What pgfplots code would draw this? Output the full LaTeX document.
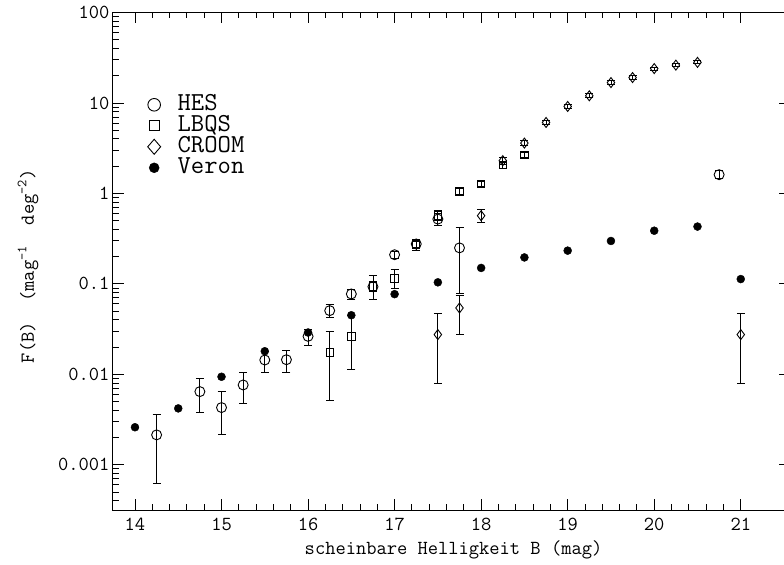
\documentclass[border=0pt]{standalone}
\usepackage{fontspec}
\usepackage{pgfplots}
\pgfplotsset{compat=1.18}
\usepackage{pgfplotstable}

% Surface density of quasars per magnitude bin; lo/hi are the ends of the error bars
\pgfplotstableread{
x     y       lo       hi
14.25 0.00214 0.000625 0.00361
14.75 0.00644 0.0038   0.0090
15.00 0.00429 0.00216  0.0065
15.25 0.00763 0.00474  0.01045
15.50 0.0144  0.0105   0.018
15.75 0.0145  0.0105   0.0184
16.00 0.0263  0.0211   0.0317
16.25 0.0506  0.0427   0.0585
16.50 0.0773  0.0669   0.087
16.75 0.093   0.082    0.105
17.00 0.21    0.19     0.23
17.25 0.276   0.25     0.30
17.50 0.52    0.44     0.60
17.75 0.25    0.078    0.42
20.75 1.61    1.45     1.78
}\hes

\pgfplotstableread{
x     y      lo     hi
16.25 0.0175 0.0051 0.030
16.50 0.0263 0.0112 0.045
16.75 0.094  0.067  0.124
17.00 0.115  0.090  0.146
17.25 0.27   0.235  0.31
17.50 0.57   0.50   0.64
17.75 1.05   0.97   1.13
18.00 1.27   1.18   1.36
18.25 2.06   1.90   2.22
18.50 2.68   2.50   2.86
}\lbqs

\pgfplotstableread{
x     y      lo     hi
17.50 0.0275 0.008  0.0465
17.75 0.0542 0.0275 0.0746
18.00 0.567  0.479  0.67
18.25 2.30   2.10   2.50
18.50 3.60   3.35   3.85
18.75 6.09   5.75   6.45
19.00 9.15   8.70   9.60
19.25 12.0   11.4   12.6
19.50 16.8   16.0   17.6
19.75 19.1   18.3   19.9
20.00 24.0   23.0   25.0
20.25 26.2   25.2   27.2
20.50 28.1   27.0   29.2
21.00 0.0275 0.008  0.0465
}\croom

\pgfplotstableread{
x    y
14.0 0.0026
14.5 0.0042
15.0 0.0094
15.5 0.018
16.0 0.029
16.5 0.045
17.0 0.077
17.5 0.104
18.0 0.15
18.5 0.196
19.0 0.233
19.5 0.298
20.0 0.387
20.5 0.43
21.0 0.113
}\veron

\pgfplotsset{
  errstyle/.style={
    error bars/.cd, y dir=both, y explicit,
    error bar style={line width=0.9bp, black},
    error mark options={mark size=4bp, line width=0.9bp, black, rotate=90},
  },
}

\begin{document}
\begin{tikzpicture}
\useasboundingbox (-113bp,-55bp) rectangle (671bp,510bp);
\begin{axis}[
  scale only axis,
  width=677bp, height=497.5bp,
  xmin=13.746, xmax=21.569,
  ymode=log, ymin=3.1623e-4, ymax=100,
  xtick={14,15,16,17,18,19,20,21},
  minor x tick num=4,
  ytick={0.001,0.01,0.1,1,10,100},
  yticklabels={0.001,0.01,0.1,1,10,100},
  minor ytick={4e-4,5e-4,6e-4,7e-4,8e-4,9e-4,
    0.002,0.003,0.004,0.005,0.006,0.007,0.008,0.009,
    0.02,0.03,0.04,0.05,0.06,0.07,0.08,0.09,
    0.2,0.3,0.4,0.5,0.6,0.7,0.8,0.9,
    2,3,4,5,6,7,8,9,20,30,40,50,60,70,80,90},
  tick align=inside,
  major tick length=11bp, minor tick length=6bp,
  axis line style={line width=1bp},
  every tick/.style={line width=0.9bp, black},
  /pgf/number format/assume math mode=true,
  tick label style={font=\ttfamily\fontsize{20}{20}\selectfont},
  xticklabel style={yshift=-5bp},
  label style={font=\ttfamily\fontsize{20}{20}\selectfont},
  xlabel={scheinbare Helligkeit B (mag)},
  ylabel={F(B)\ \ (mag\textsuperscript{-1}\ \ deg\textsuperscript{-2})},
  xlabel style={at={(axis description cs:0.503,-0.08)}, anchor=center},
  ylabel style={at={(axis description cs:-0.1256,0.49)}, anchor=center, rotate=0},
  legend style={at={(axis description cs:0.051,0.836)}, anchor=north west,
    draw=none, fill=none, font=\ttfamily\fontsize{26}{26}\selectfont,
    row sep=0pt, column sep=17bp, inner sep=0pt,
    nodes={inner sep=0pt, text height=16bp, text depth=5bp}},
  legend cell align=left,
]
\addlegendimage{only marks, mark=o, mark size=6.3bp, line width=0.9bp, black}
\addlegendentry{HES}
\addlegendimage{only marks, mark=square, mark size=5bp, line width=0.9bp, black}
\addlegendentry{LBQS}
\addlegendimage{only marks, mark=diamond, mark size=7.5bp, line width=0.9bp, black,
  mark options={xscale=1.15}}
\addlegendentry{CROOM}
\addlegendimage{only marks, mark=*, mark size=5bp, black}
\addlegendentry{Veron}

\addplot[forget plot, only marks, mark=o, mark size=5bp, line width=0.9bp, black, errstyle]
  table[x=x, y=y, y error plus expr=\thisrow{hi}-\thisrow{y},
        y error minus expr=\thisrow{y}-\thisrow{lo}] {\hes};
\addplot[forget plot, only marks, mark=square, mark size=3.7bp, line width=0.9bp, black, errstyle]
  table[x=x, y=y, y error plus expr=\thisrow{hi}-\thisrow{y},
        y error minus expr=\thisrow{y}-\thisrow{lo}] {\lbqs};
\addplot[forget plot, only marks, mark=diamond, mark size=5bp, line width=0.9bp, black, errstyle]
  table[x=x, y=y, y error plus expr=\thisrow{hi}-\thisrow{y},
        y error minus expr=\thisrow{y}-\thisrow{lo}] {\croom};
\addplot[forget plot, only marks, mark=*, mark size=4bp, black]
  table[x=x, y=y] {\veron};
\end{axis}
\end{tikzpicture}
\end{document}
